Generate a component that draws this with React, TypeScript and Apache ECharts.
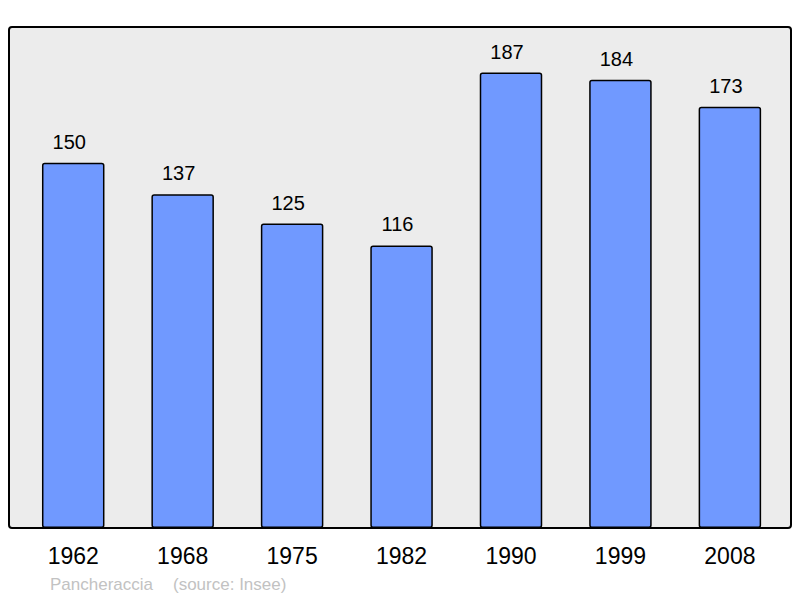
import React, { useEffect, useRef } from "react";
import * as echarts from "echarts";

const years = ["1962", "1968", "1975", "1982", "1990", "1999", "2008"];
const population = [150, 137, 125, 116, 187, 184, 173];
const footerName = "Pancheraccia";
const footerSource = "(source: Insee)";

export default function App() {
  const ref = useRef<HTMLDivElement>(null);
  useEffect(() => {
    if (!ref.current) return;
    const chart = echarts.init(ref.current, null, { renderer: "svg" });
    chart.setOption({
      animation: false,
      backgroundColor: "#ffffff",
      textStyle: { fontFamily: "Liberation Sans" },
      grid: { left: 18.5, right: 15.4, top: 27, bottom: 70, containLabel: false },
      graphic: [
        {
          type: "rect",
          z: -10,
          shape: { x: 9, y: 27, width: 782, height: 501, r: 3 },
          style: { fill: "#ececec", stroke: "#000000", lineWidth: 2 },
        },
        {
          type: "text",
          x: 50,
          y: 576,
          style: {
            text: footerName,
            fill: "#c2c2c2",
            font: "17px Liberation Sans",
          },
        },
        {
          type: "text",
          x: 173,
          y: 576,
          style: {
            text: footerSource,
            fill: "#c2c2c2",
            font: "17px Liberation Sans",
          },
        },
      ],
      xAxis: {
        type: "category",
        data: years,
        axisLine: { show: false },
        axisTick: { show: false },
        axisLabel: {
          color: "#000000",
          fontSize: 23,
          fontFamily: "Liberation Sans",
          margin: 16,
        },
      },
      yAxis: {
        type: "value",
        min: 0,
        max: 205.7,
        show: false,
        splitLine: { show: false },
      },
      series: [
        {
          type: "bar",
          data: population,
          barWidth: 62.5,
          itemStyle: {
            color: "#7099ff",
            borderColor: "#000000",
            borderWidth: 1.5,
            borderRadius: 2,
          },
          label: {
            show: true,
            position: "top",
            distance: 11,
            offset: [-4, 0],
            color: "#000000",
            fontSize: 20,
            fontFamily: "Liberation Sans",
          },
        },
      ],
    });
    return () => chart.dispose();
  }, []);
  return <div ref={ref} style={{ width: 800, height: 598, position: "absolute", left: 0, top: 0 }} />;
}
